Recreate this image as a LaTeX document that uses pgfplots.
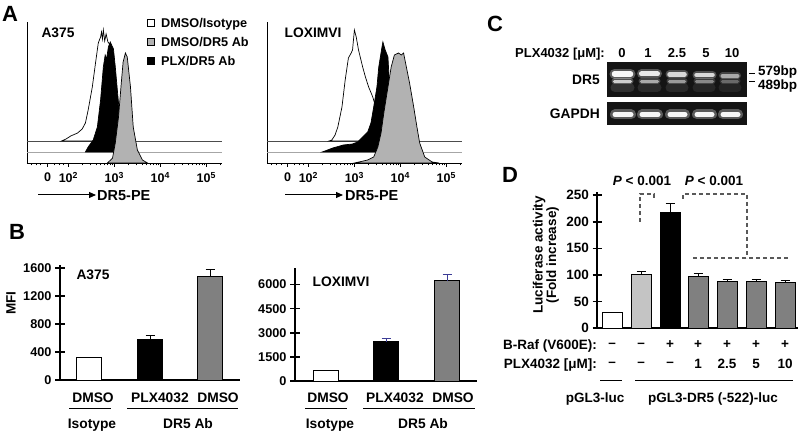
\documentclass[border=0pt]{standalone}
\usepackage{fontspec}
\setmainfont{Liberation Sans}
\usepackage{pgfplots}
\pgfplotsset{compat=1.18}
\usetikzlibrary{arrows.meta}
\definecolor{histgray}{RGB}{178,178,178}
\definecolor{bargray}{RGB}{128,128,128}
\definecolor{lightbar}{RGB}{196,196,196}
\definecolor{errblue}{RGB}{60,60,150}
\newcommand{\fs}[1]{\fontsize{#1}{#1}\selectfont\bfseries}
\pgfplotsset{
  noarrows/.style={axis line style={-}, every outer x axis line/.append style={-}, every outer y axis line/.append style={-}, every inner x axis line/.append style={-}, every inner y axis line/.append style={-}},
  histo/.style={scale only axis, anchor=south west, width=195pt, height=141pt,
    xmin=1.1, xmax=5.34, ymin=0, ymax=141,
    axis x line=bottom, axis y line=left, noarrows, axis line style={line width=0.9pt},
    ytick=\empty, xtick={1.55,2,3,4,5},
    xticklabels={0,10\textsuperscript{2},10\textsuperscript{3},10\textsuperscript{4},10\textsuperscript{5}},
    minor xtick={1.2,1.3,1.4,1.7,1.8,1.9,2.301,2.477,2.602,2.699,2.778,2.845,2.903,2.954,3.301,3.477,3.602,3.699,3.778,3.845,3.903,3.954,4.301,4.477,4.602,4.699,4.778,4.845,4.903,4.954,5.301},
    tick align=outside, major tick length=4pt, minor tick length=2.5pt,
    tick style={black, line width=0.6pt},
    xticklabel style={font=\fs{12.5}, yshift=-2pt}, clip=false},
  barax/.style={scale only axis, anchor=south west, axis x line=bottom, axis y line=left, noarrows,
    axis line style={line width=1.6pt}, xtick=\empty, tick align=center,
    major tick length=10pt, tick style={black, line width=1.6pt},
    yticklabel style={font=\fs{12.7}}, clip=false},
  hbar/.style={ybar, bar shift=0pt, draw=black, line width=0.8pt},
  errb/.style={error bars/.cd, y dir=plus, y explicit, error mark=|,
    error bar style={line width=1pt,#1}, error mark options={line width=1pt, mark size=4.5pt, #1}},
  errb/.default=black,
  band/.style={line cap=round, draw=white},
}
\begin{document}
\begin{tikzpicture}[t/.style={inner sep=0pt, text depth=0pt}]
\path[use as bounding box] (0pt,0pt) rectangle (800pt,433pt);

% ---------------- Panel A ----------------
\begin{axis}[histo, at={(27pt,270pt)}]
\addplot[draw=black!70, line width=0.8pt] coordinates {(1.1,22)(5.34,22)};
\addplot[fill=white, draw=black, line width=0.7pt] coordinates {(1.85,22)(1.95,24)(2.05,27)(2.2,30)(2.3,34)(2.37,40)(2.43,53)(2.52,76)(2.59,100)(2.65,120)(2.70,126)(2.72,131)(2.74,124)(2.76,133)(2.79,122)(2.82,129)(2.86,121)(2.91,118)(3.0,80)(3.1,35)(3.2,22)} -- cycle;
\addplot[draw=black!35, line width=0.8pt] coordinates {(1.1,11)(5.34,11)};
\addplot[fill=black, draw=black, line width=0.7pt] coordinates {(2.37,11)(2.43,16)(2.54,23)(2.63,36)(2.70,63)(2.76,96)(2.80,108)(2.83,104)(2.87,116)(2.91,121)(2.94,118)(2.98,114)(3.02,96)(3.07,70)(3.11,50)(3.17,23)(3.22,11)} -- cycle;
\addplot[fill=histgray, draw=black, line width=0.7pt] coordinates {(2.85,0)(2.96,5)(3.02,20)(3.09,46)(3.15,80)(3.19,101)(3.24,110)(3.28,106)(3.35,76)(3.41,36)(3.50,13)(3.61,3)(3.72,0)} -- cycle;
\end{axis}

\begin{axis}[histo, at={(267pt,270pt)}]
\addplot[draw=black!70, line width=0.8pt] coordinates {(1.1,22)(5.34,22)};
\addplot[fill=white, draw=black, line width=0.7pt] coordinates {(2.45,22)(2.51,23)(2.58,28)(2.64,36)(2.73,56)(2.80,83)(2.87,105)(2.93,110)(2.96,113)(3.0,133)(3.04,126)(3.09,113)(3.18,96)(3.24,86)(3.31,76)(3.40,66)(3.5,50)(3.6,35)(3.7,25)(3.8,22)} -- cycle;
\addplot[draw=black!35, line width=0.8pt] coordinates {(1.1,11)(5.34,11)};
\addplot[fill=black, draw=black, line width=0.7pt] coordinates {(2.30,11)(2.36,12)(2.53,15)(2.76,18)(2.96,19)(3.07,21)(3.18,26)(3.29,31)(3.36,40)(3.42,56)(3.49,76)(3.53,96)(3.60,116)(3.62,121)(3.67,113)(3.73,106)(3.76,80)(3.9,40)(4.1,15)(4.3,11)} -- cycle;
\addplot[fill=histgray, draw=black, line width=0.7pt] coordinates {(3.0,0)(3.1,1)(3.29,3)(3.42,6)(3.51,16)(3.58,30)(3.64,50)(3.73,76)(3.80,96)(3.87,108)(3.96,110)(4.02,108)(4.07,110)(4.13,96)(4.2,80)(4.29,56)(4.36,36)(4.42,20)(4.53,6)(4.69,1)(4.84,0)} -- cycle;
\end{axis}

\begin{scope}[x=1pt,y=1pt]
\node[t, anchor=west, font=\fs{22}] at (2,419) {A};
\draw[line width=0.8pt, fill=white] (147,406.5) rectangle (154,413.5);
\draw[line width=0.8pt, fill=histgray] (147,387.5) rectangle (154,394.5);
\draw[line width=0.8pt, fill=black] (147,368.5) rectangle (154,375.5);
\node[t, anchor=west, font=\fs{12.7}] at (161,410) {DMSO/Isotype};
\node[t, anchor=west, font=\fs{12.7}] at (161,391) {DMSO/DR5 Ab};
\node[t, anchor=west, font=\fs{12.7}] at (161,372) {PLX/DR5 Ab};
\node[t, font=\fs{13.8}] at (58,400) {A375};
\node[t, font=\fs{13.8}] at (313,400) {LOXIMVI};
\draw[line width=1pt, -{Triangle[length=7pt,width=6pt]}] (38,238) -- (96,238);
\node[t, anchor=west, font=\fs{14.5}] at (97,237) {DR5-PE};
\draw[line width=1pt, -{Triangle[length=7pt,width=6pt]}] (285,238) -- (343,238);
\node[t, anchor=west, font=\fs{14.5}] at (345,237) {DR5-PE};
\end{scope}

% ---------------- Panel B ----------------
\begin{axis}[barax, at={(60pt,53pt)}, width=180pt, height=115pt, xmin=60, xmax=240, ymin=0, ymax=1643,
  ytick={0,400,800,1200,1600}, yticklabels={0,400,800,1200,1600}]
\addplot[hbar, bar width=25, fill=white] coordinates {(89,324)};
\addplot[hbar, bar width=25, fill=black, errb] coordinates {(150,586) +- (0,43)};
\addplot[hbar, bar width=25, fill=bargray, errb] coordinates {(210,1476) +- (0,105)};
\end{axis}
\begin{axis}[barax, at={(295pt,52pt)}, width=182pt, height=113pt, xmin=295, xmax=477, ymin=0, ymax=7033,
  ytick={0,1500,3000,4500,6000}, yticklabels={0,1500,3000,4500,6000}]
\addplot[hbar, bar width=25, fill=white] coordinates {(326,685)};
\addplot[hbar, bar width=25, fill=black, errb=errblue] coordinates {(386,2446) +- (0,211)};
\addplot[hbar, bar width=25, fill=bargray, errb=errblue] coordinates {(447,6243) +- (0,355)};
\end{axis}

\begin{scope}[x=1pt,y=1pt]
\node[t, anchor=west, font=\fs{22}] at (9,201) {B};
\node[t, rotate=90, font=\fs{13.5}] at (11,130) {MFI};
\node[t, font=\fs{13.8}] at (93,158) {A375};
\node[t, font=\fs{13.8}] at (341,151) {LOXIMVI};
\foreach \x/\l in {93/DMSO,160/PLX4032,218/DMSO,328/DMSO,395/PLX4032,453/DMSO}
  \node[t, font=\fs{13.8}] at (\x,35) {\l};
\draw[line width=0.7pt] (69,25) -- (111,25);
\draw[line width=0.7pt] (127,25) -- (238,25);
\draw[line width=0.7pt] (305,25) -- (347,25);
\draw[line width=0.7pt] (363,25) -- (475,25);
\foreach \x/\l in {92/Isotype,188/DR5 Ab,330/Isotype,423/DR5 Ab}
  \node[t, font=\fs{13.8}] at (\x,9) {\l};
\end{scope}

% ---------------- Panel C ----------------
\begin{axis}[scale only axis, anchor=south west, at={(607pt,336pt)}, width=140pt, height=35pt,
  xmin=607, xmax=747, ymin=62, ymax=97, y dir=reverse, hide axis]
\addplot[fill=black!92, draw=none] coordinates {(607,62)(747,62)(747,97)(607,97)} -- cycle;
\addplot[band, line width=9pt, opacity=0.12] coordinates {(615,88)(630,88)};
\addplot[band, line width=9pt, opacity=0.10] coordinates {(642,88)(657,88)};
\addplot[band, line width=9pt, opacity=0.09] coordinates {(670,88)(684,88)};
\addplot[band, line width=9pt, opacity=0.08] coordinates {(697,88)(711,88)};
\addplot[band, line width=9pt, opacity=0.07] coordinates {(723,88)(737,88)};
\addplot[band, line width=10pt, opacity=0.30] coordinates {(614.5,74)(630.5,74)};
\addplot[band, line width=5.5pt, opacity=0.95] coordinates {(614.5,74)(630.5,74)};
\addplot[band, line width=9pt, opacity=0.28] coordinates {(641.5,74)(657.5,74)};
\addplot[band, line width=5pt, opacity=0.88] coordinates {(641.5,74)(657.5,74)};
\addplot[band, line width=8pt, opacity=0.25] coordinates {(669.5,74.5)(684.5,74.5)};
\addplot[band, line width=4.5pt, opacity=0.78] coordinates {(669.5,74.5)(684.5,74.5)};
\addplot[band, line width=8pt, opacity=0.25] coordinates {(696.5,75)(712.5,75)};
\addplot[band, line width=4.5pt, opacity=0.78] coordinates {(696.5,75)(712.5,75)};
\addplot[band, line width=7pt, opacity=0.2] coordinates {(722.5,76)(737.5,76)};
\addplot[band, line width=4pt, opacity=0.55] coordinates {(722.5,76)(737.5,76)};
\addplot[band, line width=6pt, opacity=0.25] coordinates {(614.5,81.3)(630.5,81.3)};
\addplot[band, line width=3.5pt, opacity=0.72] coordinates {(614.5,81.3)(630.5,81.3)};
\addplot[band, line width=6pt, opacity=0.2] coordinates {(641.5,81.3)(657.5,81.3)};
\addplot[band, line width=3.5pt, opacity=0.55] coordinates {(641.5,81.3)(657.5,81.3)};
\addplot[band, line width=6pt, opacity=0.18] coordinates {(669.5,81.3)(684.5,81.3)};
\addplot[band, line width=3.5pt, opacity=0.48] coordinates {(669.5,81.3)(684.5,81.3)};
\addplot[band, line width=6pt, opacity=0.16] coordinates {(696.5,81.3)(712.5,81.3)};
\addplot[band, line width=3.5pt, opacity=0.4] coordinates {(696.5,81.3)(712.5,81.3)};
\addplot[band, line width=6pt, opacity=0.12] coordinates {(722.5,81.5)(737.5,81.5)};
\addplot[band, line width=3.5pt, opacity=0.28] coordinates {(722.5,81.5)(737.5,81.5)};
\end{axis}
\begin{axis}[scale only axis, anchor=south west, at={(607pt,308pt)}, width=140pt, height=23pt,
  xmin=607, xmax=747, ymin=102, ymax=125, y dir=reverse, hide axis]
\addplot[fill=black!92, draw=none] coordinates {(607,102)(747,102)(747,125)(607,125)} -- cycle;
\addplot[band, line width=10pt, opacity=0.3] coordinates {(615,114.5)(631,114.5)};
\addplot[band, line width=5pt, opacity=0.95] coordinates {(615,114.5)(631,114.5)};
\addplot[band, line width=10pt, opacity=0.3] coordinates {(642,114.5)(658,114.5)};
\addplot[band, line width=5pt, opacity=0.95] coordinates {(642,114.5)(658,114.5)};
\addplot[band, line width=10pt, opacity=0.3] coordinates {(670,114.5)(685,114.5)};
\addplot[band, line width=5pt, opacity=0.95] coordinates {(670,114.5)(685,114.5)};
\addplot[band, line width=10pt, opacity=0.3] coordinates {(697,114.5)(712,114.5)};
\addplot[band, line width=5pt, opacity=0.95] coordinates {(697,114.5)(712,114.5)};
\addplot[band, line width=10pt, opacity=0.3] coordinates {(723,114.5)(738,114.5)};
\addplot[band, line width=5pt, opacity=0.95] coordinates {(723,114.5)(738,114.5)};
\end{axis}

\begin{scope}[x=1pt,y=1pt]
\node[t, anchor=west, font=\fs{22}] at (487,409) {C};
\node[t, anchor=east, font=\fs{13}] at (605,380) {PLX4032 [μM]:};
\foreach \x/\l in {622/0,648/1,677/2.5,706/5,732/10}
  \node[t, font=\fs{13}] at (\x,380) {\l};
\node[t, anchor=east, font=\fs{13.8}] at (600,353) {DR5};
\node[t, anchor=east, font=\fs{13.8}] at (600,319) {GAPDH};
\draw[line width=0.8pt] (749,360) -- (755,360);
\draw[line width=0.8pt] (749,352) -- (755,352);
\node[t, anchor=west, font=\fs{13.5}] at (758,362) {579bp};
\node[t, anchor=west, font=\fs{13.5}] at (758,348) {489bp};
\end{scope}

% ---------------- Panel D ----------------
\begin{axis}[barax, at={(597pt,105pt)}, width=201pt, height=136pt, xmin=597, xmax=798, ymin=0, ymax=256,
  ytick={0,50,100,150,200,250}, yticklabels={0,50,100,150,200,250}, major tick length=9pt,
  axis line style={line width=1.8pt}, yticklabel style={font=\fs{13.5}}]
\addplot[hbar, bar width=20, fill=white] coordinates {(612,30)};
\addplot[hbar, bar width=20, fill=lightbar, errb] coordinates {(641,101) +- (0,6)};
\addplot[hbar, bar width=20, fill=black, errb] coordinates {(670,218) +- (0,17)};
\addplot[hbar, bar width=20, fill=bargray, errb] coordinates {(698,98) +- (0,4)};
\addplot[hbar, bar width=20, fill=bargray, errb] coordinates {(727,87) +- (0,5)};
\addplot[hbar, bar width=20, fill=bargray, errb] coordinates {(756,87) +- (0,5)};
\addplot[hbar, bar width=20, fill=bargray, errb] coordinates {(785,85) +- (0,5)};
\end{axis}

\begin{scope}[x=1pt,y=1pt]
\node[t, anchor=west, font=\fs{22}] at (502,258) {D};
\node[inner sep=0pt, rotate=90, align=center, font=\fs{13.5}] at (546,178) {Luciferase activity\\(Fold increase)};
\node[t, font=\fs{13.5}] at (642,252) {\textit{P} < 0.001};
\node[t, font=\fs{13.5}] at (714,252) {\textit{P} < 0.001};
\draw[black!65, line width=1.1pt, dash pattern=on 4pt off 3pt] (640,211) -- (640,239) -- (654,239) -- (654,234);
\draw[black!65, line width=1.1pt, dash pattern=on 4pt off 3pt] (683,234) -- (683,239) -- (747,239) -- (747,175);
\draw[black!65, line width=1.1pt, dash pattern=on 4pt off 3pt] (693,175) -- (788,175);
\node[t, anchor=east, font=\fs{13.5}] at (597,88) {B-Raf (V600E):};
\node[t, anchor=east, font=\fs{13.5}] at (597,69) {PLX4032 [μM]:};
\foreach \x/\a/\b in {612/–/–,641/–/–,670/+/–,698/+/1,727/+/2.5,756/+/5,785/+/10}{
  \node[t, font=\fs{13.5}] at (\x,88) {\a};
  \node[t, font=\fs{13.5}] at (\x,69) {\b};
}
\draw[line width=0.7pt] (600,53) -- (622,53);
\draw[line width=0.7pt] (635,53) -- (793,53);
\node[t, font=\fs{13.5}] at (595,35) {pGL3-luc};
\node[t, font=\fs{13.5}] at (713,35) {pGL3-DR5 (-522)-luc};
\end{scope}
\end{tikzpicture}
\end{document}
